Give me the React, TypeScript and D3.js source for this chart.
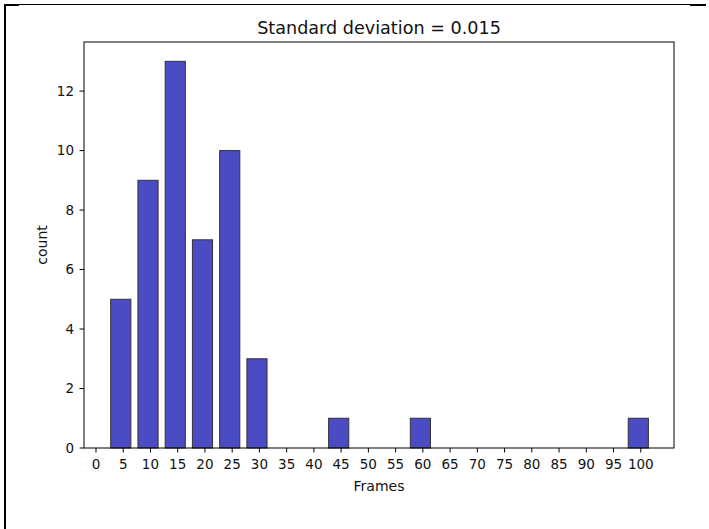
import React from "react";
import * as d3 from "d3";

const categories = [5, 10, 15, 20, 25, 30, 35, 40, 45, 50, 55, 60, 65, 70, 75, 80, 85, 90, 95, 100];
const counts = [5, 9, 13, 7, 10, 3, 0, 0, 1, 0, 0, 1, 0, 0, 0, 0, 0, 0, 0, 1];
const xTicks = d3.range(0, 101, 5);
const yTicks = [0, 2, 4, 6, 8, 10, 12];
const title = "Standard deviation = 0.015";
const xLabel = "Frames";
const yLabel = "count";

const W = 709;
const H = 529;
const left = 84, right = 674, top = 42, bottom = 448;
const FONT = "DejaVu Sans, sans-serif";

export default function App() {
  const x = d3.scaleLinear().domain([-2.2, 106.1]).range([left, right]);
  const y = d3.scaleLinear().domain([0, 13.65]).range([bottom, top]);
  const barW = 3.7;
  const offset = -0.45;
  return (
    <svg width={W} height={H} style={{ position: "absolute", left: 0, top: 0, background: "#fff" }} fontFamily={FONT}>
      <rect x={0} y={0} width={W} height={H} fill="#fff" />
      {/* outer frame */}
      <line x1={5} y1={4} x2={5} y2={H} stroke="#000" strokeWidth={2} />
      <line x1={4} y1={4.5} x2={690} y2={4.5} stroke="#000" strokeWidth={1.2} />
      <rect x={4} y={4} width={15} height={2} fill="#000" />
      <rect x={690} y={4} width={16} height={2} fill="#000" />
      {/* bars */}
      {categories.map((c, i) => {
        const x0 = x(c + offset - barW / 2);
        const x1 = x(c + offset + barW / 2);
        const y0 = y(counts[i]);
        return (
          <rect key={c} x={x0} y={y0} width={x1 - x0} height={bottom - y0}
            fill="#4b4bc4" stroke="#333" strokeWidth={1} />
        );
      })}
      {/* axes frame */}
      <rect x={left} y={top} width={right - left} height={bottom - top} fill="none" stroke="#000" strokeWidth={1} />
      {/* x ticks */}
      {xTicks.map((t) => (
        <g key={t}>
          <line x1={x(t)} x2={x(t)} y1={bottom} y2={bottom + 4.5} stroke="#000" strokeWidth={1} />
          <text x={x(t)} y={bottom + 21} textAnchor="middle" fontSize={13.5} fill="#111">{t}</text>
        </g>
      ))}
      {/* y ticks */}
      {yTicks.map((t) => (
        <g key={t}>
          <line x1={left - 4.5} x2={left} y1={y(t)} y2={y(t)} stroke="#000" strokeWidth={1} />
          <text x={left - 10} y={y(t)} dy="0.36em" textAnchor="end" fontSize={13.5} fill="#111">{t}</text>
        </g>
      ))}
      <text x={(left + right) / 2} y={34} textAnchor="middle" fontSize={17.6} fill="#111">{title}</text>
      <text x={(left + right) / 2} y={491} textAnchor="middle" fontSize={14} fill="#111">{xLabel}</text>
      <text transform={`translate(46.5,${(top + bottom) / 2}) rotate(-90)`} textAnchor="middle" fontSize={14} fill="#111">{yLabel}</text>
    </svg>
  );
}
